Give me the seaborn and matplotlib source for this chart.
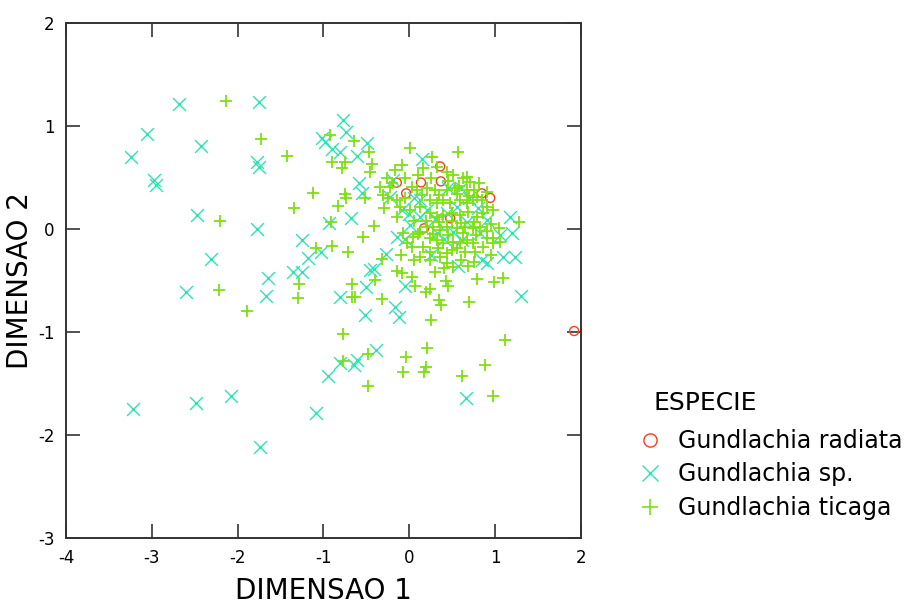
import numpy as np
import matplotlib
matplotlib.use('Agg')
import matplotlib.pyplot as plt
from matplotlib.lines import Line2D
import seaborn as sns
import pandas as pd

# dados (DIMENSAO 1, DIMENSAO 2)
radiata_x = [-0.146, -0.037, 0.136, 0.367, 0.359, 0.845, 0.942, 0.172, 0.476, 1.92]
radiata_y = [0.45, 0.347, 0.452, 0.463, 0.608, 0.347, 0.302, 0.007, 0.104, -0.99]

sp_x = [-2.683, -1.754, -3.06, -2.43, -3.24, -1.77, -1.75, -2.97, -2.955, -2.477,
        -1.774, -1.25, -1.176, -2.31, -1.35, -1.245, -1.65, -2.60, -1.665, -3.22,
        -2.49, -2.077, -1.085, -1.743,
        -0.807, -0.503, -0.457, -0.407, -0.165, -0.115, -0.522, -0.39, -0.605, -0.643,
        -0.807, -0.943, -0.05, 0.662, 1.30, 0.57,
        -0.776, -0.741, -1.02, -0.982, -0.904, -0.807, -0.488, -0.605, -0.581, -0.554,
        -0.679, -0.931, -1.032, -0.271, 0.844, 0.903, 1.097, 1.233, 1.175, 1.194, 1.058,
        -0.146, 0.009, 0.126, 0.553, 0.67, 0.612, 0.825, 0.456, 0.126, 0.514,
        0.145, -0.185, -0.224, -0.088, 0.203, 0.32, 0.436, 0.903, -0.05, 0.25, 0.05,
        0.3, 0.7, 0.4, 0.0, 0.6, 0.8]
sp_y = [1.21, 1.233, 0.92, 0.81, 0.70, 0.647, 0.60, 0.476, 0.427, 0.139,
        0.003, -0.11, -0.28, -0.29, -0.42, -0.415, -0.48, -0.61, -0.647, -1.745,
        -1.69, -1.618, -1.79, -2.117,
        -0.657, -0.566, -0.398, -0.388, -0.754, -0.851, -0.835, -1.17, -1.27, -1.32,
        -1.30, -1.43, -0.553, -1.644, -0.65, -0.36,
        1.058, 0.945, 0.88, 0.848, 0.773, 0.751, 0.832, 0.709, 0.45, 0.346,
        0.104, 0.055, -0.22, -0.243, -0.301, -0.333, -0.269, -0.269, 0.12, -0.042, -0.058,
        -0.074, 0.039, 0.12, 0.217, 0.071, -0.107, -0.042, 0.395, 0.282, -0.026,
        0.676, 0.476, 0.314, 0.184, 0.184, -0.042, 0.152, 0.087, -0.1, -0.25, 0.3,
        0.1, 0.3, -0.1, 0.15, 0.4, 0.2]

ticaga_x = [-2.14, -1.727, -1.43, -1.118, -1.343, -2.20, -1.09,
            -1.29, -2.217, -1.296, -1.89,
            -0.663, -0.670, -0.63, -0.399, -0.321, -0.775, -0.476, -0.775, -0.476, -0.041,
            -0.069, 0.207, 0.19, 0.172, 0.254, 0.34, 0.367, 0.19, 0.24, 0.068,
            0.425, 0.449, 0.69, 0.612, 0.973, 0.887, 1.12, 0.794, 0.992, 1.09,
            -0.146, -0.088, 0.029, 0.40, 0.51, 0.68,
            -0.923, -0.644, -0.465, -0.904, -0.787, -0.748, -0.438, -0.457, -0.748, -0.737,
            -0.515, -0.826, -0.915, -0.407, -0.535, -0.904, -0.71, -0.321, 1.272, 1.039,
            0.98, 0.009, 0.565, 0.262,
            -0.088, -0.166, 0.165, 0.514, 0.631, 0.708, 0.806, -0.263, -0.34, -0.224,
            -0.302, -0.243, 0.029, 0.087, 0.203, 0.3, 0.436, 0.534, 0.67, 0.786,
            0.903, 0.98, -0.146, -0.107, 0.009, 0.126, 0.242, 0.32, 0.398, 0.475,
            0.592, 0.67, 0.747, 0.242, 0.32, 0.398, 0.495, 0.592, 0.689, 0.786,
            0.864, 0.203, 0.281, 0.359, 0.436, 0.553, 0.65, 0.747, 0.825, 0.242,
            0.32, 0.398, 0.514, 0.592, 0.67, 0.747, 0.903, 0.98, 0.165, 0.242,
            0.436, 0.553, 0.767, 0.864, 1.058, -0.068, -0.03, 0.048, 0.126, -0.146,
            0.359, 0.436, 0.242, 0.126, 0.029, 0.32, 0.436, 0.67,
            -0.2, -0.05, 0.1, 0.25, 0.45, 0.58, 0.75, 0.9,
            -0.3, -0.05, 0.15, 0.35, 0.55, 0.7, 0.85,
            0.05, 0.2, 0.35, 0.5, 0.6, 0.75, 0.95,
            0.1, 0.28, 0.45, 0.62, 0.78, 0.9,
            0.33, 0.5, 0.65, 0.95, 0.6, 0.75, 0.05, -0.1, 0.3]
ticaga_y = [1.245, 0.877, 0.706, 0.353, 0.20, 0.078, -0.18,
            -0.537, -0.592, -0.667, -0.796,
            -0.537, -0.657, -0.657, -0.495, -0.683, -1.02, -1.217, -1.28, -1.52, -1.24,
            -1.39, -1.158, -1.337, -1.385, -0.883, -0.689, -0.738, -0.615, -0.585, -0.55,
            -0.505, -0.553, -0.709, -1.424, -1.621, -1.324, -1.078, -0.485, -0.51, -0.479,
            -0.408, -0.43, -0.463, -0.38, -0.365, -0.356,
            0.913, 0.854, 0.751, 0.654, 0.589, 0.654, 0.628, 0.557, 0.34, 0.298,
            0.298, 0.223, 0.071, 0.029, -0.081, -0.165, -0.22, -0.294, 0.071, 0.007,
            -0.09, 0.783, 0.744, 0.7,
            0.621, 0.573, 0.589, 0.524, 0.492, 0.46, 0.443, 0.492, 0.411, 0.411,
            0.33, 0.298, 0.411, 0.379, 0.395, 0.379, 0.379, 0.395, 0.379, 0.314,
            0.217, 0.184, 0.12, 0.217, 0.184, 0.217, 0.282, 0.249, 0.282, 0.249,
            0.282, 0.249, 0.282, 0.152, 0.12, 0.136, 0.152, 0.136, 0.168, 0.12,
            0.152, 0.023, 0.023, -0.01, 0.023, 0.007, 0.023, 0.007, 0.023, -0.09,
            -0.107, -0.139, -0.123, -0.139, -0.107, -0.139, -0.09, -0.139, -0.171, -0.22,
            -0.236, -0.188, -0.22, -0.171, -0.123, -0.042, -0.139, -0.075, -0.026, 0.282,
            -0.268, -0.333, -0.301, -0.268, -0.171, 0.605, 0.557, 0.508,
            0.45, 0.5, 0.52, 0.5, 0.47, 0.42, 0.38, 0.36,
            0.2, 0.3, 0.33, 0.33, 0.34, 0.32, 0.28,
            0.08, 0.08, 0.07, 0.08, 0.06, 0.07, 0.05,
            -0.05, -0.05, -0.06, -0.04, -0.06, -0.02,
            -0.18, -0.2, -0.22, -0.25, -0.3, -0.32, -0.3, -0.25, -0.42]

especies = ['Gundlachia radiata', 'Gundlachia sp.', 'Gundlachia ticaga']
cores = ['#f2401c', '#2de3b4', '#7ee012']

df = pd.concat([
    pd.DataFrame({'d1': radiata_x, 'd2': radiata_y, 'especie': especies[0]}),
    pd.DataFrame({'d1': sp_x, 'd2': sp_y, 'especie': especies[1]}),
    pd.DataFrame({'d1': ticaga_x, 'd2': ticaga_y, 'especie': especies[2]}),
], ignore_index=True)

sns.set_style('white')
plt.rcParams['font.family'] = ['DejaVu Sans']
plt.rcParams['axes.unicode_minus'] = False
plt.rcParams['text.color'] = 'black'

fig = plt.figure(figsize=(9.24, 6.05), dpi=100)
ax = fig.add_axes([0.0714, 0.1107, 0.5574, 0.8512])

# circulo vazio
sns.scatterplot(data=df[df.especie == especies[0]], x='d1', y='d2', marker='o',
                color=cores[0], s=42, linewidth=1.0, ax=ax, legend=False)
ax.collections[-1].set_facecolor('none')
ax.collections[-1].set_edgecolor(cores[0])
sns.scatterplot(data=df[df.especie == especies[1]], x='d1', y='d2', marker='x',
                color=cores[1], s=85, linewidth=1.0, ax=ax, legend=False)
sns.scatterplot(data=df[df.especie == especies[2]], x='d1', y='d2', marker='+',
                color=cores[2], s=80, linewidth=1.3, ax=ax, legend=False)

ax.set_xlim(-4, 2)
ax.set_ylim(-3, 2)
ax.set_xticks(range(-4, 3))
ax.set_yticks(range(-3, 3))
ax.tick_params(direction='in', length=10, width=1.2, top=True, right=True,
               bottom=True, left=True, labelsize=12, pad=8,
               color='#333333', labelcolor='black')
for sp in ax.spines.values():
    sp.set_linewidth(1.4)
    sp.set_color('#333333')

ax.set_xlabel('DIMENSAO 1', fontsize=20, color='black')
ax.set_ylabel('DIMENSAO 2', fontsize=20, color='black')
ax.xaxis.set_label_coords(0.5, -0.075)
ax.yaxis.set_label_coords(-0.062, 0.5)

fig.text(653 / 924, 1 - 403 / 605, 'ESPECIE', fontsize=18, ha='left', va='center')
handles = [
    Line2D([], [], linestyle='none', marker='o', markersize=9.5, markerfacecolor='none',
           markeredgecolor=cores[0], markeredgewidth=1.0),
    Line2D([], [], linestyle='none', marker='x', markersize=11.5,
           color=cores[1], markeredgewidth=1.0),
    Line2D([], [], linestyle='none', marker='+', markersize=11,
           color=cores[2], markeredgewidth=1.2),
]
fig.legend(handles, especies, loc='upper left', bbox_to_anchor=(638 / 924, 1 - 429 / 605),
           frameon=False, fontsize=17, handlelength=1.0, handletextpad=0.7,
           labelspacing=0.4, borderpad=0, borderaxespad=0)

fig.savefig('out.png', dpi=100)
